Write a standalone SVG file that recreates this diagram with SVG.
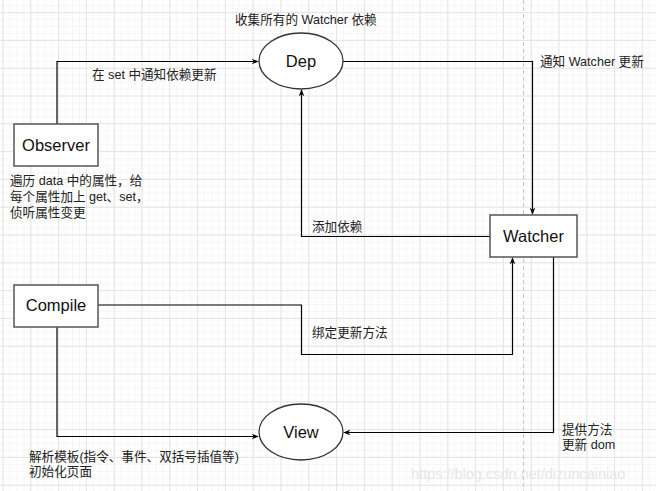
<svg xmlns="http://www.w3.org/2000/svg" width="656" height="491" viewBox="0 0 656 491">
<defs>
  <pattern id="minor" width="6.95" height="6.95" patternUnits="userSpaceOnUse" x="2.5" y="12.1">
    <path d="M0 0.5H6.95M0.5 0V6.95" stroke="#f6f6f6" stroke-width="1" fill="none"/>
  </pattern>
  <pattern id="major" width="27.8" height="27.8" patternUnits="userSpaceOnUse" x="2.5" y="12.1">
    <path d="M0 0.5H27.8M0.5 0V27.8" stroke="#e4e4e4" stroke-width="1" fill="none"/>
  </pattern>
  <marker id="arr" viewBox="0 0 10 10" refX="9" refY="5" markerWidth="7" markerHeight="7" orient="auto" markerUnits="userSpaceOnUse">
    <path d="M0 1 L10 5 L0 9 L3 5 Z" fill="#000"/>
  </marker>
</defs>
<style>
  .box { fill: #ffffff; stroke: #555555; stroke-width: 1.5; }
  .ell { fill: #ffffff; stroke: #333333; stroke-width: 1.3; }
  .node { font-family: "Liberation Sans", "Noto Sans CJK SC", sans-serif; font-size: 16.5px; fill: #111; text-anchor: middle; }
  .lbl { font-family: "Liberation Sans", "Noto Sans CJK SC", sans-serif; font-size: 12.6px; fill: #222; }
  .conn { fill: none; stroke: #000; stroke-width: 1.2; }
</style>
<rect width="656" height="491" fill="#ffffff"/>
<rect width="656" height="491" fill="url(#minor)"/>
<rect width="656" height="491" fill="url(#major)"/>
<line x1="523.5" y1="0" x2="523.5" y2="491" stroke="#c8c8c8" stroke-width="1" stroke-dasharray="4 3"/>

<g id="connectors">
  <path class="conn" d="M57 124 V61.5 H258" marker-end="url(#arr)"/>
  <path class="conn" d="M343 61.5 H532.5 V214" marker-end="url(#arr)"/>
  <path class="conn" d="M490 236.5 H301.5 V90" marker-end="url(#arr)"/>
  <path class="conn" d="M98 305 H301.5 V354.5 H512.5 V258" marker-end="url(#arr)"/>
  <path class="conn" d="M553.5 257 V432.5 H344" marker-end="url(#arr)"/>
  <path class="conn" d="M57 327 V436.5 H258" marker-end="url(#arr)"/>
</g>

<g id="dep">
  <ellipse class="ell" cx="301" cy="61" rx="42" ry="28"/>
  <text class="node" x="301" y="67">Dep</text>
</g>
<g id="observer">
  <rect class="box" x="14" y="124" width="84" height="42"/>
  <text class="node" x="56" y="151">Observer</text>
</g>
<g id="watcher">
  <rect class="box" x="490" y="215" width="87" height="42"/>
  <text class="node" x="533.5" y="242">Watcher</text>
</g>
<g id="compile">
  <rect class="box" x="14" y="285" width="84" height="42"/>
  <text class="node" x="56" y="311">Compile</text>
</g>
<g id="view">
  <ellipse class="ell" cx="301" cy="432" rx="42" ry="28"/>
  <text class="node" x="301" y="438">View</text>
</g>

<g id="labels">
  <text class="lbl" x="235" y="24">收集所有的 Watcher 依赖</text>
  <text class="lbl" x="92" y="79">在 set 中通知依赖更新</text>
  <text class="lbl" x="540" y="66">通知 Watcher 更新</text>
  <text class="lbl" x="10" y="185">遍历 data 中的属性，给</text>
  <text class="lbl" x="10" y="201">每个属性加上 get、set，</text>
  <text class="lbl" x="10" y="217">侦听属性变更</text>
  <text class="lbl" x="312" y="231">添加依赖</text>
  <text class="lbl" x="312" y="337">绑定更新方法</text>
  <text class="lbl" x="562" y="434">提供方法</text>
  <text class="lbl" x="562" y="449">更新 dom</text>
  <text class="lbl" x="29" y="461">解析模板(指令、事件、双括号插值等)</text>
  <text class="lbl" x="29" y="476">初始化页面</text>
  <text x="411" y="479" font-family="Liberation Sans, sans-serif" font-size="14.5" fill="#e6e6e6">https://blog.csdn.net/dizuncainiao</text>
</g>
</svg>
